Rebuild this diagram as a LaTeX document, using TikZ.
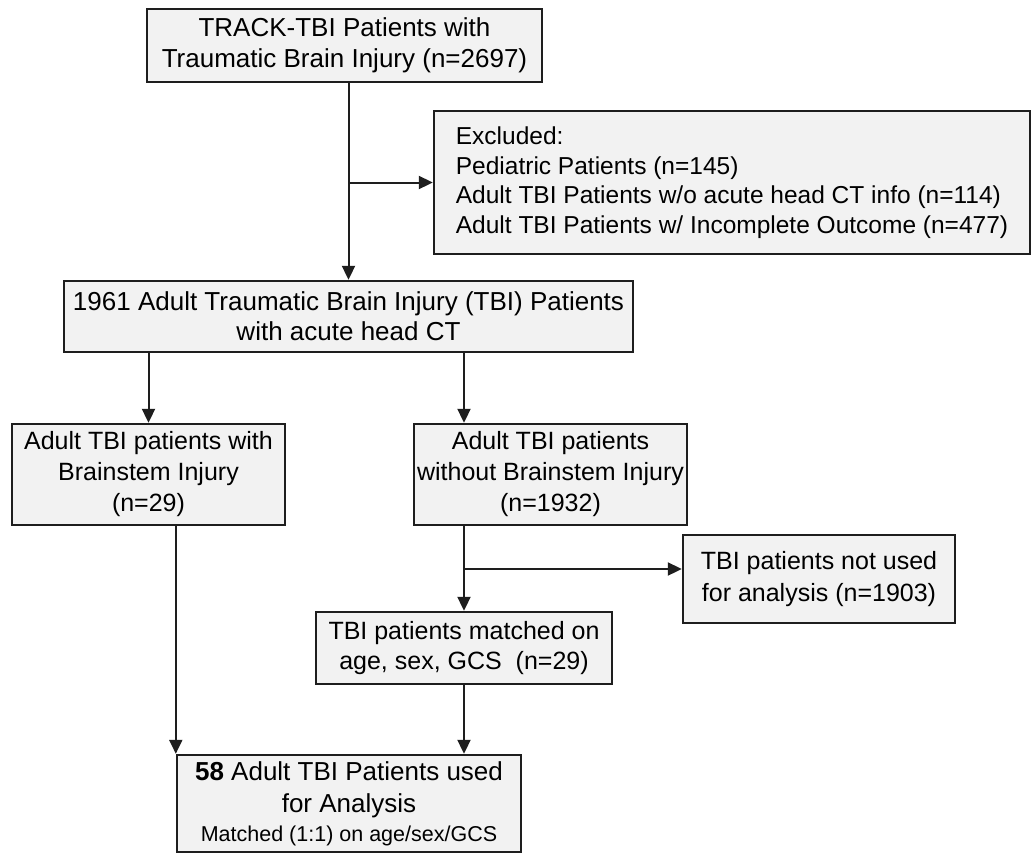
\documentclass[tikz,border=0pt]{standalone}
\usepackage{fontspec}
\setmainfont{Liberation Sans}
\usetikzlibrary{arrows.meta}
\definecolor{boxgrey}{RGB}{242,242,242}
\definecolor{linegrey}{RGB}{30,30,30}
\begin{document}
\begin{tikzpicture}[x=1pt,y=-1pt,
  box/.style={draw=linegrey, line width=2.4pt, fill=boxgrey, inner sep=0pt, align=center,
              font=\fontsize{25}{31}\selectfont},
  conn/.style={line width=2pt, draw=linegrey},
  arr/.style={conn, -{Triangle[length=14pt,width=13pt]}}]
\useasboundingbox (0,0) rectangle (1031,855);
\fill[white] (0,0) rectangle (1031,855);

\node[box, minimum width=395pt, minimum height=73pt, font=\fontsize{26}{31}\selectfont] (track) at (344.5,45.5)
  {TRACK-TBI Patients with\\Traumatic Brain Injury (n=2697)};

\node[box, align=left, minimum width=596pt, minimum height=143pt,
      font=\fontsize{24.5}{29.6}\selectfont] (excl) at (732,182.5)
  {Excluded:\\Pediatric Patients (n=145)\\Adult TBI Patients w/o acute head CT info (n=114)\\Adult TBI Patients w/ Incomplete Outcome (n=477)};

\node[box, minimum width=569pt, minimum height=71pt, font=\fontsize{26}{30}\selectfont] (adult) at (348.5,316.5)
  {1961 Adult Traumatic Brain Injury (TBI) Patients\\with acute head CT};

\node[box, minimum width=273pt, minimum height=101pt] (with) at (148.5,474.5)
  {Adult TBI patients with\\Brainstem Injury\\(n=29)};

\node[box, minimum width=273pt, minimum height=101pt] (without) at (550.5,474.5)
  {Adult TBI patients\\without Brainstem Injury\\(n=1932)};

\node[box, minimum width=272pt, minimum height=88pt, font=\fontsize{25}{32}\selectfont] (notused) at (819,579)
  {TBI patients not used\\for analysis (n=1903)};

\node[box, minimum width=296pt, minimum height=72pt, font=\fontsize{25}{30}\selectfont] (matched) at (464,648)
  {TBI patients matched on\\age, sex, GCS~~(n=29)};

\node[box, minimum width=344pt, minimum height=97pt, font=\fontsize{26}{32}\selectfont] (final) at (349,803.5)
  {\textbf{58} Adult TBI Patients used\\for Analysis\\[-3pt]{\fontsize{21.5}{26}\selectfont Matched (1:1) on age/sex/GCS}};

\coordinate (j1) at (adult.north |- excl.west);
\coordinate (j2) at (matched.north |- 0,569);

\draw[arr] (adult.north |- track.south) -- (adult.north);
\draw[arr] (j1) -- (excl.west);
\draw[arr] (with.north |- adult.south) -- (with.north);
\draw[arr] (matched.north |- adult.south) -- (matched.north |- without.north);
\draw[arr] (matched.north |- without.south) -- (matched.north);
\draw[arr] (j2) -- (notused.west |- j2);
\draw[arr] (matched.south) -- (matched.south |- final.north);
\draw[arr] (final.north west |- with.south) -- (final.north west);
\end{tikzpicture}
\end{document}
